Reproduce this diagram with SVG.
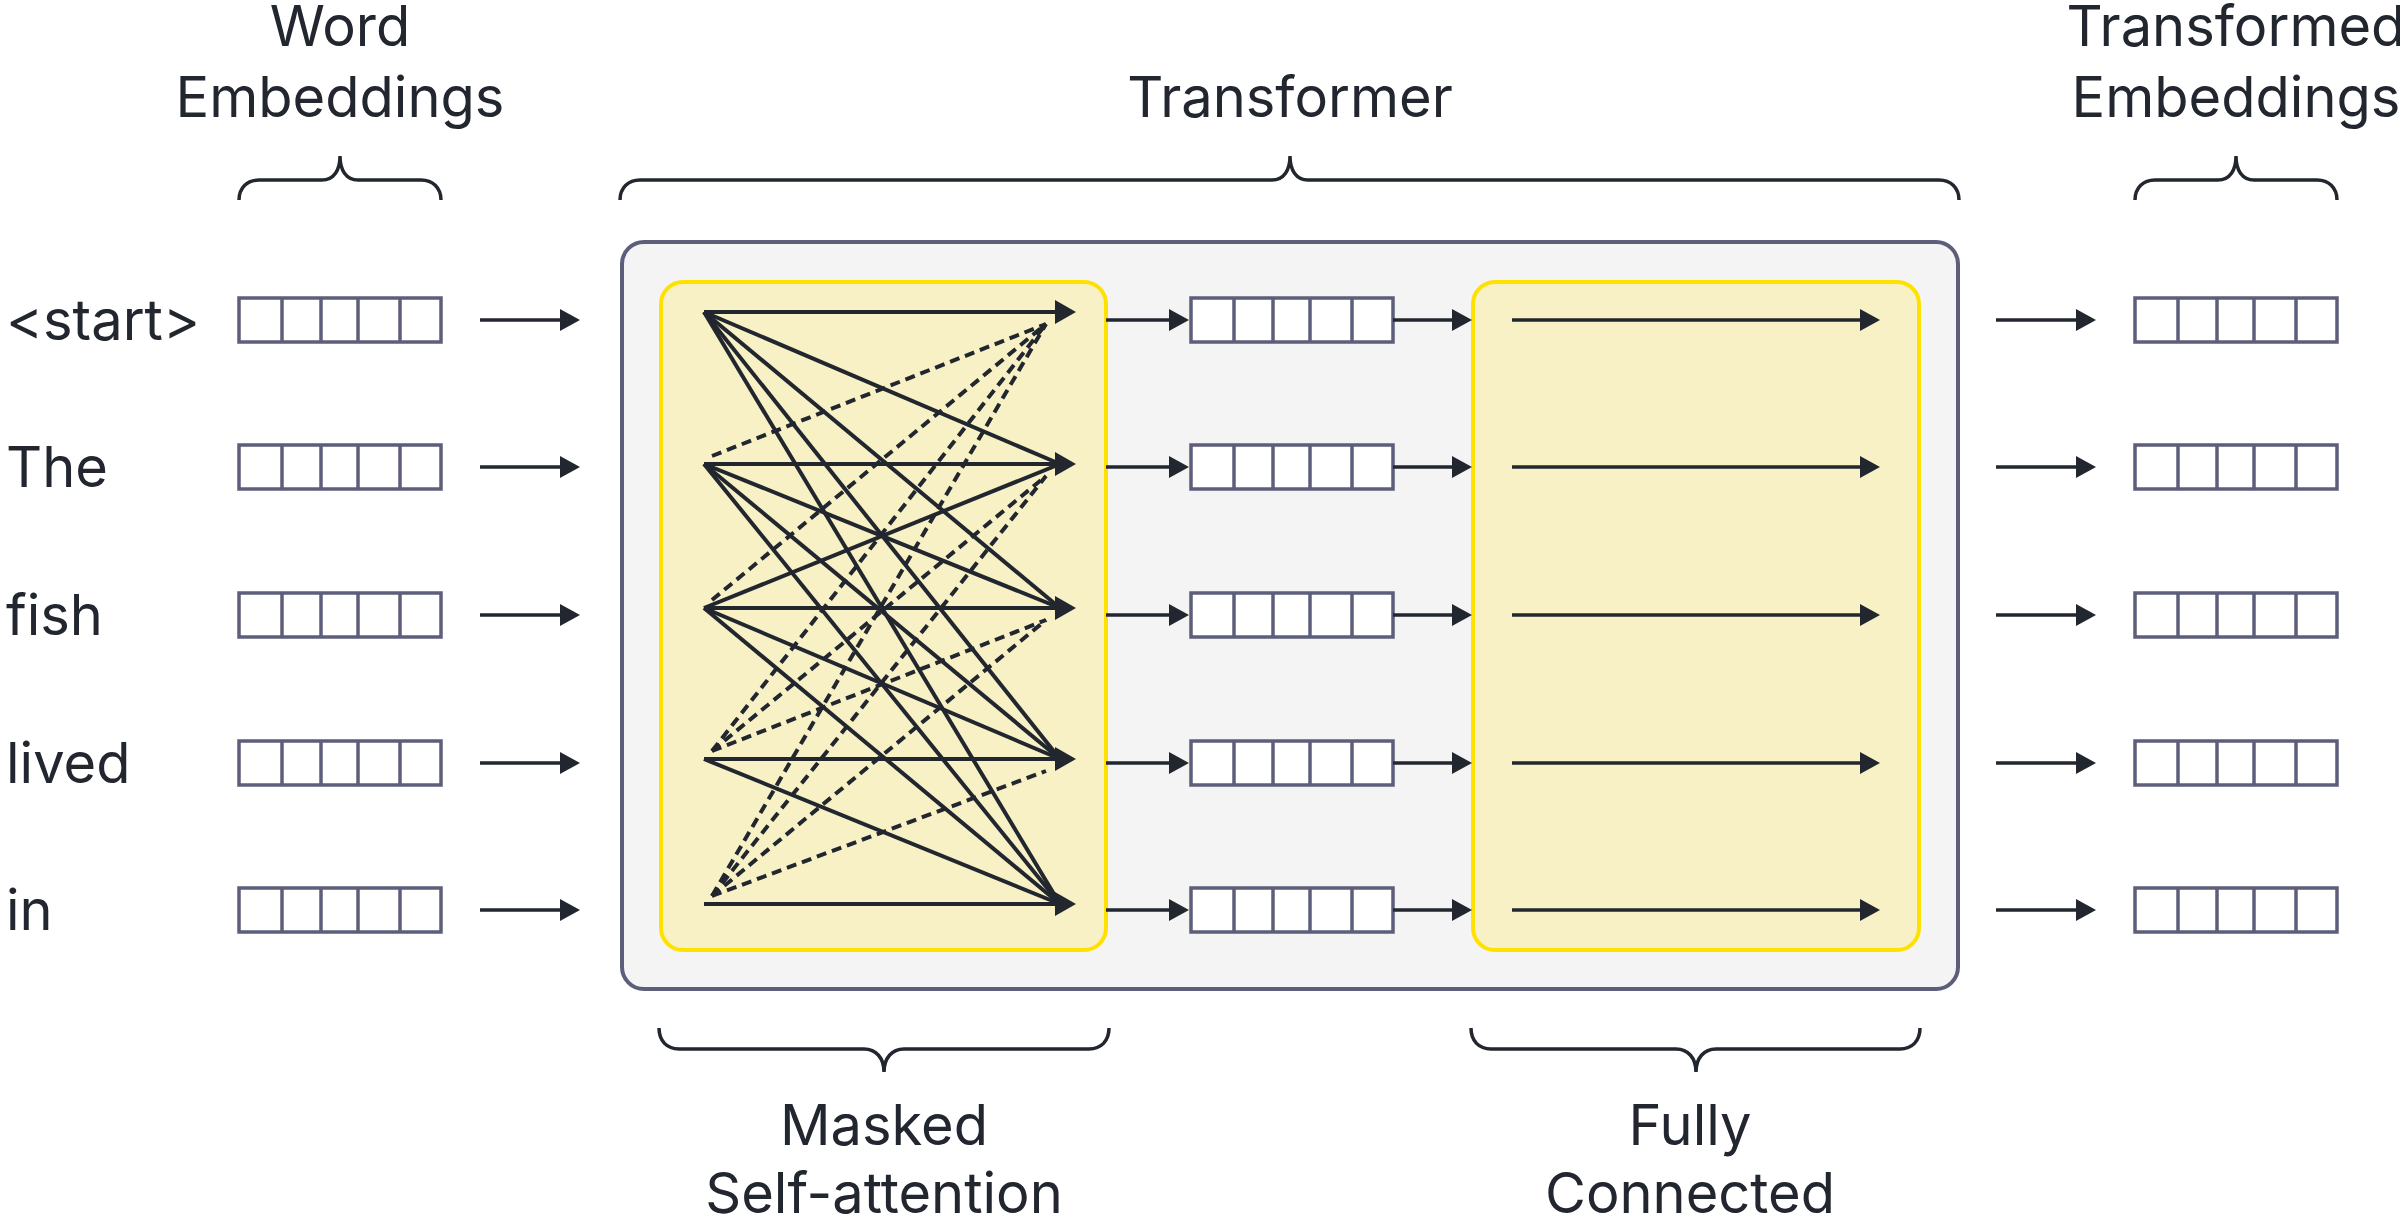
<svg xmlns="http://www.w3.org/2000/svg" width="2400" height="1220" viewBox="0 0 2400 1220">
<style>
  text { font-family: Inter, "Noto Sans", "Liberation Sans", sans-serif; font-size: 56px; font-weight: 400; fill: #22262f; }
  .mid { text-anchor: middle; }
  .vec { fill: #ffffff; stroke: #5c5e7a; stroke-width: 3.5; }
  .div { stroke: #5c5e7a; stroke-width: 3.5; }
  .brace { fill: none; stroke: #22262f; stroke-width: 3.5; }
  .ln { stroke: #22262f; stroke-width: 3.5; fill: none; }
  .att { stroke: #22262f; stroke-width: 4; fill: none; }
  .dash { stroke: #22262f; stroke-width: 4; fill: none; stroke-dasharray: 10 6; }
  .head { fill: #22262f; }
</style>
<defs>
  <marker id="arr" markerUnits="userSpaceOnUse" markerWidth="20" markerHeight="22" refX="0" refY="11" orient="auto" overflow="visible">
    <path d="M0,0 L20,11 L0,22 z" fill="#22262f"/>
  </marker>
  <g id="vector">
    <rect class="vec" x="0" y="-22" width="202" height="44"/>
    <line class="div" x1="43" y1="-22" x2="43" y2="22"/>
    <line class="div" x1="82" y1="-22" x2="82" y2="22"/>
    <line class="div" x1="119" y1="-22" x2="119" y2="22"/>
    <line class="div" x1="161" y1="-22" x2="161" y2="22"/>
  </g>
</defs>
<rect width="2400" height="1220" fill="#ffffff"/>

<!-- Headers -->
<g id="label-word-embeddings">
  <text class="mid" x="340" y="46">Word</text>
  <text class="mid" x="340" y="117">Embeddings</text>
  <path class="brace" d="M239 200 C239 188 247 180 259 180 L322 180 C334 180 340 170 340 156 C340 170 346 180 358 180 L421 180 C433 180 441 188 441 200"/>
</g>
<g id="label-transformer">
  <text class="mid" x="1290" y="117">Transformer</text>
  <path class="brace" d="M620 200 C620 188 628 180 640 180 L1272 180 C1284 180 1290 170 1290 156 C1290 170 1296 180 1308 180 L1939 180 C1951 180 1959 188 1959 200"/>
</g>
<g id="label-transformed-embeddings">
  <text class="mid" x="2236" y="46">Transformed</text>
  <text class="mid" x="2236" y="117">Embeddings</text>
  <path class="brace" d="M2135 200 C2135 188 2143 180 2155 180 L2218 180 C2230 180 2236 170 2236 156 C2236 170 2242 180 2254 180 L2317 180 C2329 180 2337 188 2337 200"/>
</g>

<!-- Transformer container -->
<g id="transformer">
  <rect x="622" y="242" width="1336" height="747" rx="22" fill="#f4f4f4" stroke="#5c5e7a" stroke-width="4"/>
</g>
<g id="masked-self-attention">
  <rect x="661" y="282" width="445" height="668" rx="22" fill="#f7f1c5" stroke="#ffe100" stroke-width="4"/>
</g>
<g id="fully-connected">
  <rect x="1473" y="282" width="446" height="668" rx="22" fill="#f7f1c5" stroke="#ffe100" stroke-width="4"/>
</g>

<!-- Bottom labels -->
<g id="label-masked">
  <path class="brace" d="M659 1028 C659 1041 667 1049 679 1049 L864 1049 C876 1049 884 1058 884 1072 C884 1058 892 1049 904 1049 L1089 1049 C1101 1049 1109 1041 1109 1028"/>
  <text class="mid" x="884" y="1145">Masked</text>
  <text class="mid" x="884" y="1213">Self-attention</text>
</g>
<g id="label-fc">
  <path class="brace" d="M1471 1028 C1471 1041 1479 1049 1491 1049 L1676 1049 C1688 1049 1696 1058 1696 1072 C1696 1058 1704 1049 1716 1049 L1900 1049 C1912 1049 1920 1041 1920 1028"/>
  <text class="mid" x="1690" y="1145">Fully</text>
  <text class="mid" x="1690" y="1213">Connected</text>
</g>

<!-- Token labels -->
<g id="tokens">
  <text x="6" y="340">&lt;start&gt;</text>
  <text x="6" y="487">The</text>
  <text x="6" y="635">fish</text>
  <text x="6" y="783">lived</text>
  <text x="6" y="930">in</text>
</g>

<!-- Vectors -->
<g id="input-vectors">
  <use href="#vector" x="239" y="320"/>
  <use href="#vector" x="239" y="467"/>
  <use href="#vector" x="239" y="615"/>
  <use href="#vector" x="239" y="763"/>
  <use href="#vector" x="239" y="910"/>
</g>
<g id="middle-vectors">
  <use href="#vector" x="1191" y="320"/>
  <use href="#vector" x="1191" y="467"/>
  <use href="#vector" x="1191" y="615"/>
  <use href="#vector" x="1191" y="763"/>
  <use href="#vector" x="1191" y="910"/>
</g>
<g id="output-vectors">
  <use href="#vector" x="2135" y="320"/>
  <use href="#vector" x="2135" y="467"/>
  <use href="#vector" x="2135" y="615"/>
  <use href="#vector" x="2135" y="763"/>
  <use href="#vector" x="2135" y="910"/>
</g>

<!-- Connectors -->
<g id="connectors">
  <!-- input arrows -->
  <line class="ln" x1="480" y1="320" x2="560" y2="320" marker-end="url(#arr)"/>
  <line class="ln" x1="480" y1="467" x2="560" y2="467" marker-end="url(#arr)"/>
  <line class="ln" x1="480" y1="615" x2="560" y2="615" marker-end="url(#arr)"/>
  <line class="ln" x1="480" y1="763" x2="560" y2="763" marker-end="url(#arr)"/>
  <line class="ln" x1="480" y1="910" x2="560" y2="910" marker-end="url(#arr)"/>
  <!-- attention -> middle -->
  <line class="ln" x1="1106" y1="320" x2="1169" y2="320" marker-end="url(#arr)"/>
  <line class="ln" x1="1106" y1="467" x2="1169" y2="467" marker-end="url(#arr)"/>
  <line class="ln" x1="1106" y1="615" x2="1169" y2="615" marker-end="url(#arr)"/>
  <line class="ln" x1="1106" y1="763" x2="1169" y2="763" marker-end="url(#arr)"/>
  <line class="ln" x1="1106" y1="910" x2="1169" y2="910" marker-end="url(#arr)"/>
  <!-- middle -> FC -->
  <line class="ln" x1="1393" y1="320" x2="1452" y2="320" marker-end="url(#arr)"/>
  <line class="ln" x1="1393" y1="467" x2="1452" y2="467" marker-end="url(#arr)"/>
  <line class="ln" x1="1393" y1="615" x2="1452" y2="615" marker-end="url(#arr)"/>
  <line class="ln" x1="1393" y1="763" x2="1452" y2="763" marker-end="url(#arr)"/>
  <line class="ln" x1="1393" y1="910" x2="1452" y2="910" marker-end="url(#arr)"/>
  <!-- FC internal -->
  <line class="ln" x1="1512" y1="320" x2="1860" y2="320" marker-end="url(#arr)"/>
  <line class="ln" x1="1512" y1="467" x2="1860" y2="467" marker-end="url(#arr)"/>
  <line class="ln" x1="1512" y1="615" x2="1860" y2="615" marker-end="url(#arr)"/>
  <line class="ln" x1="1512" y1="763" x2="1860" y2="763" marker-end="url(#arr)"/>
  <line class="ln" x1="1512" y1="910" x2="1860" y2="910" marker-end="url(#arr)"/>
  <!-- output arrows -->
  <line class="ln" x1="1996" y1="320" x2="2076" y2="320" marker-end="url(#arr)"/>
  <line class="ln" x1="1996" y1="467" x2="2076" y2="467" marker-end="url(#arr)"/>
  <line class="ln" x1="1996" y1="615" x2="2076" y2="615" marker-end="url(#arr)"/>
  <line class="ln" x1="1996" y1="763" x2="2076" y2="763" marker-end="url(#arr)"/>
  <line class="ln" x1="1996" y1="910" x2="2076" y2="910" marker-end="url(#arr)"/>

  <!-- attention: masked (dashed) -->
  <line class="dash" x1="712" y1="456" x2="1046" y2="324"/>
  <line class="dash" x1="712" y1="600" x2="1046" y2="324"/>
  <line class="dash" x1="712" y1="751" x2="1046" y2="324"/>
  <line class="dash" x1="712" y1="751" x2="1046" y2="476"/>
  <line class="dash" x1="712" y1="751" x2="1046" y2="620"/>
  <line class="dash" x1="712" y1="896" x2="1046" y2="324"/>
  <line class="dash" x1="712" y1="896" x2="1046" y2="476"/>
  <line class="dash" x1="712" y1="896" x2="1046" y2="620"/>
  <line class="dash" x1="712" y1="896" x2="1046" y2="771"/>

  <!-- attention: solid -->
  <line class="att" x1="704" y1="312" x2="1060" y2="312"/>
  <line class="att" x1="704" y1="312" x2="1060" y2="464"/>
  <line class="att" x1="704" y1="312" x2="1060" y2="608"/>
  <line class="att" x1="704" y1="312" x2="1060" y2="759"/>
  <line class="att" x1="704" y1="312" x2="1060" y2="904"/>
  <line class="att" x1="704" y1="464" x2="1060" y2="464"/>
  <line class="att" x1="704" y1="464" x2="1060" y2="608"/>
  <line class="att" x1="704" y1="464" x2="1060" y2="759"/>
  <line class="att" x1="704" y1="464" x2="1060" y2="904"/>
  <line class="att" x1="704" y1="608" x2="1060" y2="464"/>
  <line class="att" x1="704" y1="608" x2="1060" y2="608"/>
  <line class="att" x1="704" y1="608" x2="1060" y2="759"/>
  <line class="att" x1="704" y1="608" x2="1060" y2="904"/>
  <line class="att" x1="704" y1="759" x2="1060" y2="759"/>
  <line class="att" x1="704" y1="759" x2="1060" y2="904"/>
  <line class="att" x1="704" y1="904" x2="1060" y2="904"/>
  <path class="head" d="M1055 300 L1076 312 L1055 324 z"/>
  <path class="head" d="M1055 452 L1076 464 L1055 476 z"/>
  <path class="head" d="M1055 596 L1076 608 L1055 620 z"/>
  <path class="head" d="M1055 747 L1076 759 L1055 771 z"/>
  <path class="head" d="M1055 892 L1076 904 L1055 916 z"/>
</g>
</svg>
